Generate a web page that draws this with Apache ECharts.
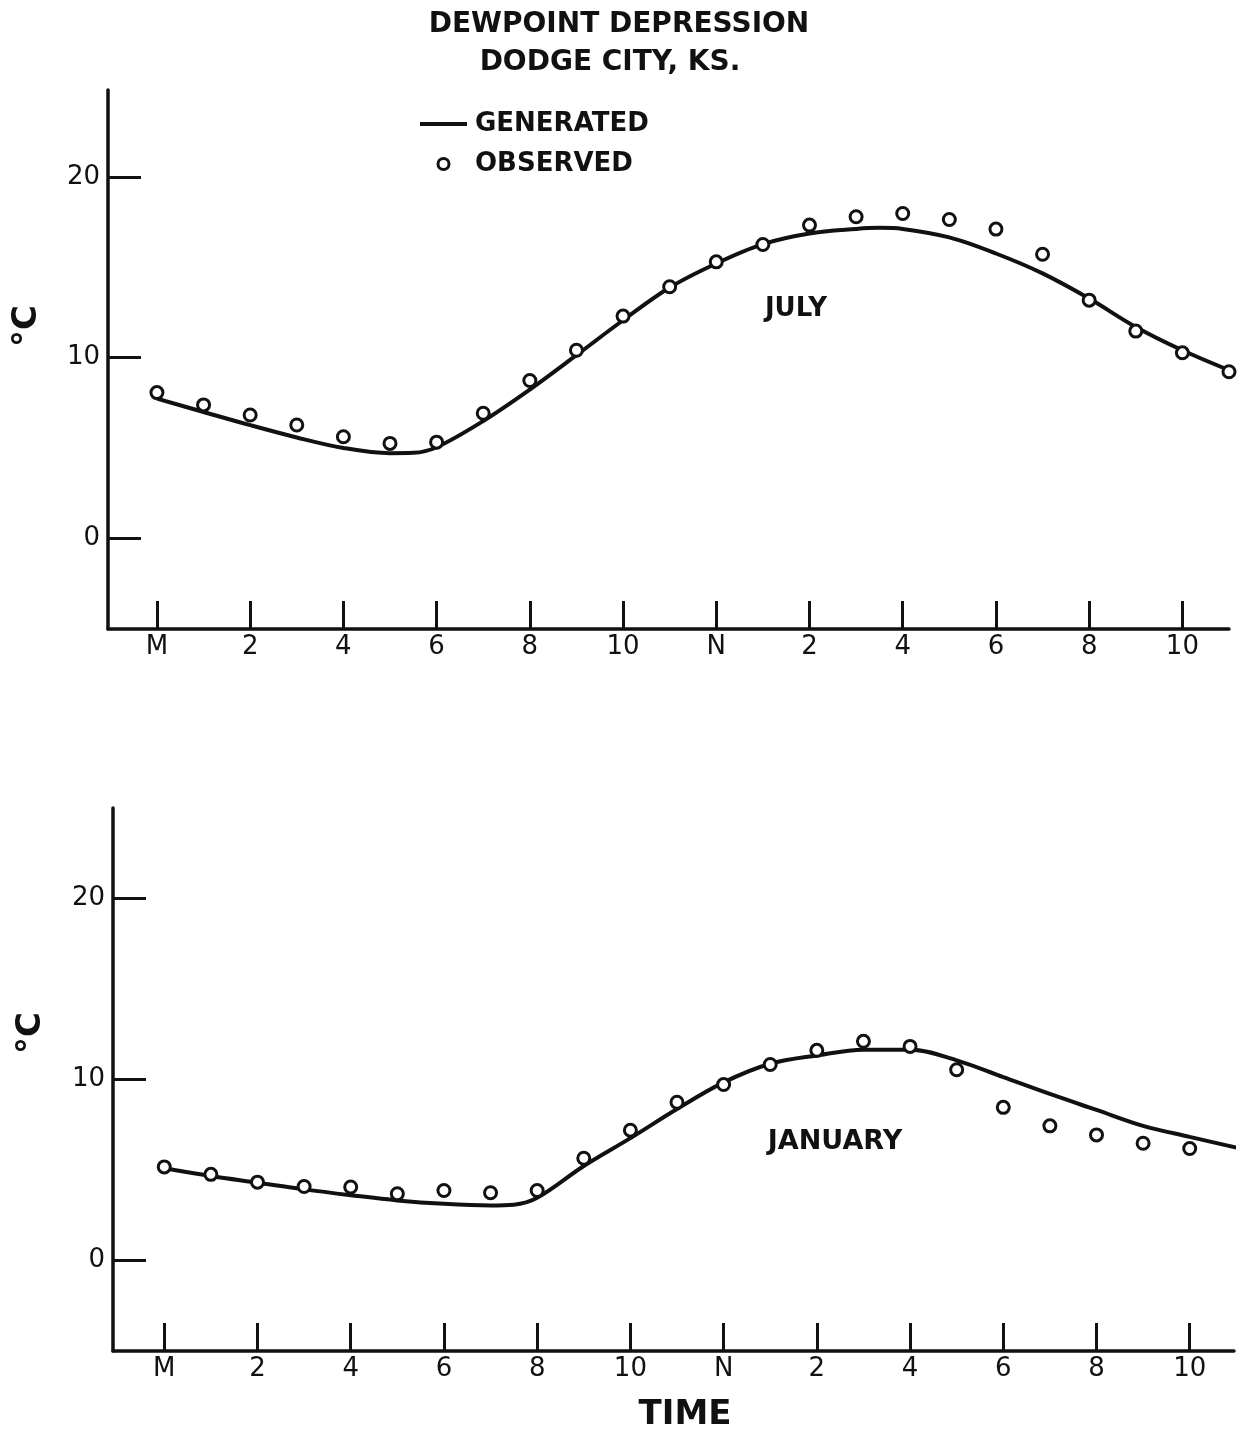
<!DOCTYPE html>
<html>
<head>
<meta charset="utf-8">
<script src="https://cdn.jsdelivr.net/npm/echarts@6/dist/echarts.min.js"></script>
<style>
html,body{margin:0;padding:0;background:#fff;}
#chart{width:1244px;height:1441px;}
</style>
</head>
<body>
<div id="chart"></div>
<script>
// ---- data ----
const hours = [0,1,2,3,4,5,6,7,8,9,10,11,12,13,14,15,16,17,18,19,20,21,22,23];
const tickHours = [0,2,4,6,8,10,12,14,16,18,20,22];
const tickLabels = ['M','2','4','6','8','10','N','2','4','6','8','10'];
const yTicks = [0,10,20];

const julyObserved = [8.07,7.39,6.83,6.28,5.63,5.26,5.33,6.93,8.74,10.41,12.3,13.92,15.30,16.26,17.33,17.79,17.97,17.64,17.11,15.72,13.18,11.47,10.27,9.22];
const julyGenHours = [0,1,2,3,4,5,5.5,6,7,8,9,10,11,12,13,14,15,15.5,16,17,18,19,20,21,22,23];
const julyGenerated = [7.74,7.0,6.27,5.59,5.01,4.72,4.74,5.05,6.5,8.24,10.14,12.07,13.88,15.21,16.28,16.87,17.12,17.18,17.12,16.65,15.76,14.66,13.27,11.70,10.41,9.31];

const janObserved = [5.17,4.76,4.33,4.09,4.06,3.69,3.87,3.74,3.87,5.65,7.2,8.74,9.72,10.83,11.61,12.11,11.83,10.54,8.46,7.44,6.94,6.48,6.19,6.06];
const janGenHours = [0,1,2,3,4,5,6,7,7.5,8,9,10,11,12,13,14,15,16,17,18,19,20,21,22,23];
const janGenerated = [5.1,4.67,4.3,3.93,3.61,3.32,3.13,3.04,3.08,3.46,5.22,6.76,8.37,9.84,10.87,11.33,11.65,11.65,11.06,10.13,9.2,8.32,7.44,6.83,6.24];

// ---- chart ----
const INK = '#111';
const FONT = '"DejaVu Sans", "Liberation Sans", sans-serif';
const pairs = (xs, ys) => xs.map((x, i) => [x, ys[i]]);

function xAxisFor(grid, min, max) {
  return {
    gridIndex: grid, type: 'value', min: min, max: max,
    axisLine: { show: true, onZero: false, lineStyle: { color: INK, width: 3.5 } },
    axisTick: { show: true, inside: true, length: 28, customValues: tickHours,
                lineStyle: { color: INK, width: 3 } },
    axisLabel: { show: true, customValues: tickHours, margin: 5,
                 color: INK, fontSize: 26, fontFamily: FONT,
                 formatter: v => tickLabels[tickHours.indexOf(v)] },
    splitLine: { show: false }
  };
}
function yAxisFor(grid, min, max) {
  return {
    gridIndex: grid, type: 'value', min: min, max: max,
    axisLine: { show: true, onZero: false, lineStyle: { color: INK, width: 3.5 } },
    axisTick: { show: true, inside: true, length: 33, customValues: yTicks,
                lineStyle: { color: INK, width: 3 } },
    axisLabel: { show: true, customValues: yTicks, margin: 8,
                 color: INK, fontSize: 26, fontFamily: FONT },
    splitLine: { show: false }
  };
}
const lineSeries = (name, xi, data) => ({
  name: name, type: 'line', xAxisIndex: xi, yAxisIndex: xi, data: data,
  smooth: 0.35, symbol: 'none', showSymbol: false,
  lineStyle: { color: INK, width: 4 }, itemStyle: { color: INK }, z: 2
});
const scatterSeries = (name, xi, data) => ({
  name: name, type: 'scatter', xAxisIndex: xi, yAxisIndex: xi, data: data,
  symbol: 'circle', symbolSize: 12,
  itemStyle: { color: '#fff', borderColor: INK, borderWidth: 3, opacity: 1 }, z: 3
});
const txt = (text, x, y, size, opts) => Object.assign({
  type: 'text', x: x, y: y,
  style: { text: text, fill: INK, font: (opts && opts.weight || 'bold') + ' ' + size + 'px ' + FONT,
           align: 'center', verticalAlign: 'middle' }
}, opts && opts.rotation ? { rotation: opts.rotation } : {});

const chart = echarts.init(document.getElementById('chart'), null, { renderer: 'canvas' });
chart.setOption({
  backgroundColor: '#fff',
  animation: false,
  grid: [
    { left: 108, top: 90, width: 1121, height: 539 },
    { left: 113, top: 808, width: 1121, height: 543 }
  ],
  xAxis: [ xAxisFor(0, -1.05, 23), xAxisFor(1, -1.1, 22.95) ],
  yAxis: [ yAxisFor(0, -5, 24.8), yAxisFor(1, -5, 25) ],
  legend: {
    data: [
      { name: 'GENERATED', icon: 'path://M0,0H47V4H0Z' },
      { name: 'OBSERVED', icon: 'circle', itemStyle: { color: '#fff', borderColor: INK, borderWidth: 3 } }
    ],
    orient: 'vertical', left: 415, top: 106,
    itemWidth: 47, itemHeight: 11, itemGap: 14, selectedMode: false, symbolKeepAspect: true,
    textStyle: { color: INK, fontSize: 26, fontWeight: 'bold', fontFamily: FONT, padding: [0, 0, 0, 3] }
  },
  series: [
    lineSeries('GENERATED', 0, pairs(julyGenHours, julyGenerated)),
    scatterSeries('OBSERVED', 0, pairs(hours, julyObserved)),
    lineSeries('GENERATED', 1, pairs(janGenHours, janGenerated)),
    scatterSeries('OBSERVED', 1, pairs(hours, janObserved))
  ],
  graphic: [
    txt('DEWPOINT DEPRESSION', 619, 25, 28),
    txt('DODGE CITY, KS.', 610, 63, 28),
    txt('JULY', 796, 309, 26),
    txt('JANUARY', 835, 1142, 27),
    txt('TIME', 685, 1415, 34),
    txt('°C', 27, 326, 34, { rotation: Math.PI / 2 }),
    txt('°C', 31, 1033, 34, { rotation: Math.PI / 2 })
  ]
});
</script>
</body>
</html>
